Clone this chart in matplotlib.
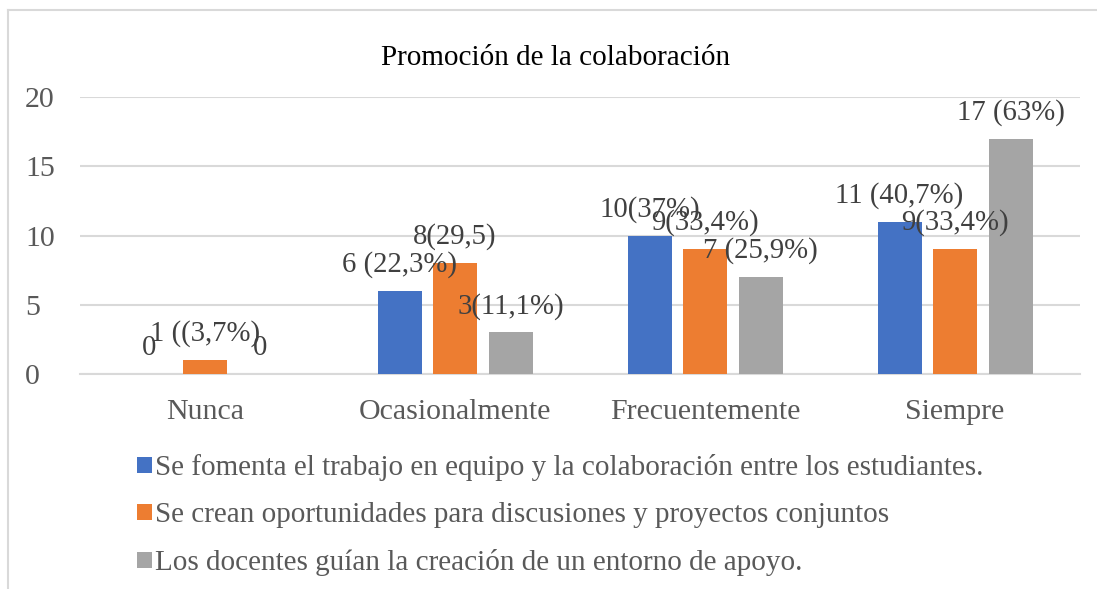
import matplotlib.pyplot as plt
from matplotlib.lines import Line2D
import numpy as np

plt.rcParams['font.family'] = ['Liberation Serif', 'DejaVu Serif']

categories = ['Nunca', 'Ocasionalmente', 'Frecuentemente', 'Siempre']
series_names = [
    'Se fomenta el trabajo en equipo y la colaboración entre los estudiantes.',
    'Se crean oportunidades para discusiones y proyectos conjuntos',
    'Los docentes guían la creación de un entorno de apoyo.',
]
fomenta = [0, 6, 10, 11]
oportunidades = [1, 8, 9, 9]
docentes = [0, 3, 7, 17]
labels_fomenta = ['0', '6 (22,3%)', '10(37%)', '11 (40,7%)']
labels_oportunidades = ['1 ((3,7%)', '8(29,5)', '9(33,4%)', '9(33,4%)']
labels_docentes = ['0', '3(11,1%)', '7 (25,9%)', '17 (63%)']
y_ticks = [0, 5, 10, 15, 20]

colors = ['#4472C4', '#ED7D31', '#A5A5A5']

fig = plt.figure(figsize=(10.97, 5.89), dpi=100)
# chart area border (top and left visible)
fig.add_artist(Line2D([8 / 1097, 8 / 1097], [0, 1 - 9.5 / 589], color='#D9D9D9', lw=1.5))
fig.add_artist(Line2D([8 / 1097, 1096 / 1097], [1 - 9.5 / 589, 1 - 9.5 / 589], color='#D9D9D9', lw=1.5))

ax = fig.add_axes([80 / 1097, 1 - 374 / 589, 1000 / 1097, 277 / 589])

x = np.arange(len(categories))
width = 0.176
step = 0.222
all_vals = [fomenta, oportunidades, docentes]
all_labels = [labels_fomenta, labels_oportunidades, labels_docentes]
for i, (vals, labs) in enumerate(zip(all_vals, all_labels)):
    pos = x + (i - 1) * step
    ax.bar(pos, vals, width, color=colors[i], label=series_names[i], zorder=3)
    for px, v, t in zip(pos, vals, labs):
        ax.annotate(t, (px, v), xytext=(0, 19), textcoords='offset points',
                    ha='center', va='center', fontsize=20.7, color='#404040', zorder=4)

ax.set_xlim(-0.5, 3.5)
ax.set_ylim(0, 20)
ax.set_yticks(y_ticks)
ax.set_xticks(x)
ax.set_xticklabels(categories)
ax.tick_params(axis='both', length=0, labelsize=21.5, colors='#595959')
ax.tick_params(axis='y', pad=39.5)
ax.tick_params(axis='x', pad=18)
for lab in ax.get_yticklabels():
    lab.set_horizontalalignment('left')
ax.grid(axis='y', color='#D9D9D9', lw=1.5, zorder=0)
for s in ['top', 'right', 'left']:
    ax.spines[s].set_visible(False)
ax.spines['bottom'].set_color('#D9D9D9')
ax.spines['bottom'].set_linewidth(1.5)

fig.text(556 / 1097, 1 - 58 / 589, 'Promoción de la colaboración', ha='center', va='center',
         fontsize=21, color='black')

leg = fig.legend(loc='upper left', bbox_to_anchor=(111 / 1097, 1 - 428 / 589), frameon=False,
                 fontsize=21, labelcolor='#595959', handlelength=0.5, handleheight=0.5,
                 handletextpad=0.12, labelspacing=0.72)

plt.savefig('out.png', dpi=100)
